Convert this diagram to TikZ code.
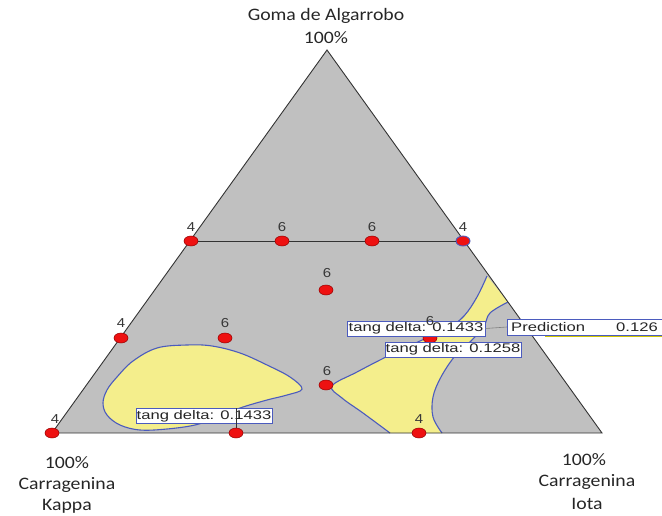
\documentclass[tikz,border=0pt]{standalone}
\usepackage{fontspec}
\usepackage{graphicx}
\setmainfont{Carlito}
\newfontfamily\arialf{Liberation Sans}
\usetikzlibrary{shapes.geometric}
\definecolor{tgrey}{HTML}{C0C0C0}
\definecolor{tyellow}{HTML}{F4EE8C}
\definecolor{tblue}{HTML}{4B5BBE}
\definecolor{tred}{HTML}{EE1111}
\definecolor{tdred}{HTML}{990000}
\definecolor{tlab}{HTML}{383838}
\tikzset{
  pt/.style={ellipse,fill=tred,draw=tdred,line width=0.5pt,minimum width=14pt,minimum height=10pt,inner sep=0pt},
  ptb/.style={pt,draw=tblue,line width=0.9pt},
  plab/.style={font=\arialf\fontsize{13}{13}\selectfont,text=tlab,inner sep=0pt,xscale=1.15},
  axlab/.style={font=\fontsize{17.5}{17.5}\selectfont,text=black!85,inner sep=0pt,xscale=1.13},
  tbox/.style={draw=tblue,line width=0.9pt,fill=white,inner sep=0pt,minimum height=15pt,font=\arialf\fontsize{12.5}{12.5}\selectfont,text=black!85},
  cont/.style={draw=tblue,line width=1.1pt},
}
\begin{document}
\begin{tikzpicture}[x=1pt,y=-1pt]
\useasboundingbox (0,0) rectangle (662,516);
\coordinate (A) at (327,50);
\coordinate (L) at (52,433);
\coordinate (R) at (602,433);
% triangle
\fill[tgrey] (A) -- (L) -- (R) -- cycle;
% left yellow blob
\fill[tyellow] plot[smooth cycle,tension=0.6] coordinates {(157,348) (187,345) (212,346) (240,353) (267,365) (290,377) (302,389) (287,395) (267,400) (240,408) (215,418) (195,425) (167,429) (140,430) (120,425) (107,415) (103,403) (107,390) (117,377) (133,361)};
\draw[cont] plot[smooth cycle,tension=0.6] coordinates {(157,348) (187,345) (212,346) (240,353) (267,365) (290,377) (302,389) (287,395) (267,400) (240,408) (215,418) (195,425) (167,429) (140,430) (120,425) (107,415) (103,403) (107,390) (117,377) (133,361)};
% right yellow band
\fill[tyellow] (487,276) -- plot[smooth,tension=0.6] coordinates {(508,302) (490,313) (484,326) (471,341) (455,356) (441,377) (433,397) (433,417) (442,433)} -- plot[smooth,tension=0.6] coordinates {(390,433) (363,413) (342,398) (332,386) (357,372) (388,356) (420,341) (447,329) (464,316) (477,297) (487,276)} -- cycle;
\draw[cont] plot[smooth,tension=0.6] coordinates {(508,302) (490,313) (484,326) (471,341) (455,356) (441,377) (433,397) (433,417) (442,433)};
\draw[cont] plot[smooth,tension=0.6] coordinates {(390,433) (363,413) (342,398) (332,386) (357,372) (388,356) (420,341) (447,329) (464,316) (477,297) (487,276)};
% triangle outline
\draw[black!80,line width=0.9pt] (A) -- (L) -- (R) -- cycle;
% design points
\node[pt] (p1) at (191,241) {};
\node[pt] (p2) at (282,241) {};
\node[pt] (p3) at (372,241) {};
\node[ptb] (p4) at (463,241) {};
\node[pt] (p5) at (326,290) {};
\node[pt] (p6) at (121,338) {};
\node[pt] (p7) at (225,338) {};
\node[pt] (p8) at (430,338) {};
\node[pt] (p9) at (326,385) {};
\node[pt] (p10) at (52,433) {};
\node[pt] (p11) at (236,433) {};
\node[pt] (p12) at (419,433) {};
\draw[black!80,line width=0.9pt] (p1) -- (p2) -- (p3) -- (p4);
% point labels
\node[plab] (l1) at (191,227) {4};
\node[plab] (l2) at (282,227) {6};
\node[plab] (l3) at (372,227) {6};
\node[plab] (l4) at (463,227) {4};
\node[plab] (l5) at (327,273) {6};
\node[plab] (l6) at (121,323) {4};
\node[plab] (l7) at (225,323) {6};
\node[plab] (l9) at (327,371) {6};
\node[plab] (l10) at (55,419) {4};
\node[plab] (l12) at (419,419) {4};
% boxes
\node[tbox,minimum width=136pt] (b1) at (204,416) {\scalebox{1.33}[1]{tang delta: 0.1433}};
\draw[black!80,line width=0.6pt] (b1.north -| p11) -- (p11.north);
\node[tbox,minimum width=138pt] (b2) at (416,328.5) {\scalebox{1.33}[1]{tang delta: 0.1433}};
\node[plab] (l8) at (430,321) {6};
\node[tbox,minimum width=136pt] (b4) at (453,349.5) {\scalebox{1.33}[1]{tang delta: 0.1258}};
\node[tbox,minimum width=160pt,minimum height=16pt,anchor=west] (b3) at (507,327) {};
\node[font=\arialf\fontsize{12.5}{12.5}\selectfont,text=black!85,anchor=west,inner sep=0pt] (b3a) at (511,327) {\scalebox{1.33}[1]{Prediction}};
\node[font=\arialf\fontsize{12.5}{12.5}\selectfont,text=black!85,anchor=west,inner sep=0pt] (b3b) at (616,327) {\scalebox{1.33}[1]{0.126}};
\draw[black!50,line width=0.6pt] (b2.east) -- (b3.west);
\draw[yellow!60!olive,line width=1pt] (545,336) -- (662,336);
% axis labels
\node[axlab] (t1) at (326,16) {Goma de Algarrobo};
\node[axlab] (t2) at (326,38) {100\%};
\node[axlab] (k1) at (67,463) {100\%};
\node[axlab] (k2) at (67,485) {Carragenina};
\node[axlab] (k3) at (67,506) {Kappa};
\node[axlab] (i1) at (584,460) {100\%};
\node[axlab] (i2) at (587,482) {Carragenina};
\node[axlab] (i3) at (587,504) {Iota};
\end{tikzpicture}
\end{document}
